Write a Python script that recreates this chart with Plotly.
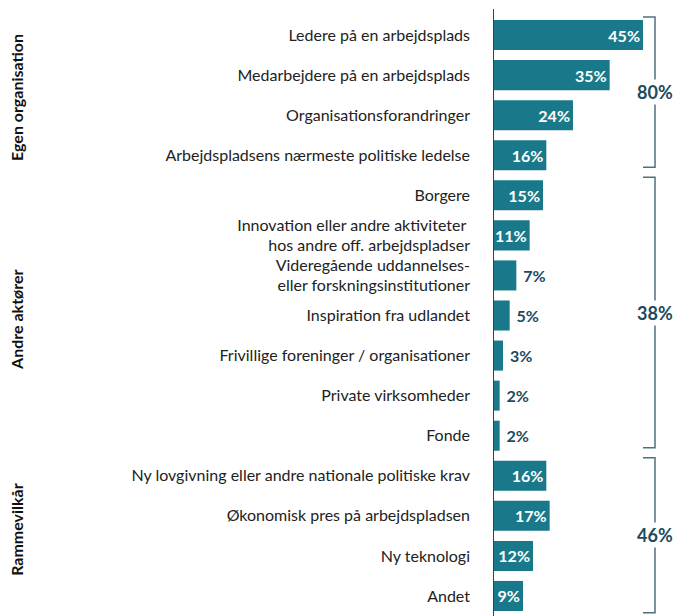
import plotly.graph_objects as go

categories = [
    "Ledere på en arbejdsplads",
    "Medarbejdere på en arbejdsplads",
    "Organisationsforandringer",
    "Arbejdspladsens nærmeste politiske ledelse",
    "Borgere",
    "Innovation eller andre aktiviteter <br>hos andre off. arbejdspladser",
    "Videregående uddannelses-<br>eller forskningsinstitutioner",
    "Inspiration fra udlandet",
    "Frivillige foreninger / organisationer",
    "Private virksomheder",
    "Fonde",
    "Ny lovgivning eller andre nationale politiske krav",
    "Økonomisk pres på arbejdspladsen",
    "Ny teknologi",
    "Andet",
]
values = [45, 35, 24, 16, 15, 11, 7, 5, 3, 2, 2, 16, 17, 12, 9]

group_names = ["Egen organisation", "Andre aktører", "Rammevilkår"]
group_totals = ["80%", "38%", "46%"]
group_start = [0, 4, 11]
group_end = [3, 10, 14]

BAR = "#19798a"
DARK = "#1c4a5e"
BRACKET = "#50707f"

inside = [v >= 9 for v in values]
text_pos = ["inside" if i else "outside" for i in inside]
text_col = ["white" if i else DARK for i in inside]
labels = [f"{v}%" if i else f"&nbsp;{v}%" for v, i in zip(values, inside)]

fig = go.Figure(go.Bar(
    y=categories, x=values, orientation="h",
    marker=dict(color=BAR, line=dict(width=0)),
    width=0.75,
    text=labels,
    textposition=text_pos,
    textangle=0,
    insidetextanchor="end",
    constraintext="none",
    textfont=dict(family="Lato", size=16, color=text_col, weight="bold"),
    cliponaxis=False,
    hoverinfo="skip",
))

W, H = 680, 616
x0px = 493
fig.update_layout(
    width=W, height=H,
    margin=dict(l=0, r=0, t=15, b=0),
    plot_bgcolor="white", paper_bgcolor="white",
    showlegend=False,
    font=dict(family="Lato", size=16, color="#222222"),
    uniformtext=dict(mode=False),
)
fig.update_xaxes(domain=[x0px / W, 1], range=[0, (W - x0px) / 3.333],
                 showgrid=False, zeroline=False, showticklabels=False,
                 showline=False)
fig.update_yaxes(type="category", categoryarray=categories,
                 range=[14.5, -0.5], showgrid=False, zeroline=False,
                 showline=False, ticks="", ticklabelstandoff=22,
                 tickfont=dict(family="Lato", size=16, color="#222222"))

# axis line
fig.add_shape(type="line", xref="x", yref="paper", x0=0, x1=0, y0=0, y1=1.01,
              line=dict(color=DARK, width=2))

# brackets
bx = 655 / W
tx = 643 / W
label_rows = [1.57, 7.11, 12.35]
for name, tot, s, e, lr in zip(group_names, group_totals, group_start, group_end, label_rows):
    y0 = s - 0.45
    y1 = e + 0.3 if e != 14 else e + 0.42
    fig.add_shape(type="path", xref="paper", yref="y",
                  path=f"M {tx} {y0} L {bx} {y0} L {bx} {y1} L {tx} {y1}",
                  line=dict(color=BRACKET, width=1.5))
    mid = (y0 + y1) / 2
    fig.add_annotation(x=bx, y=mid, xref="paper", yref="y", text=tot,
                       showarrow=False, bgcolor="white", xanchor="center",
                       font=dict(family="Lato", size=18, color=DARK, weight="bold"))
    fig.add_annotation(x=17 / W, y=lr, xref="paper", yref="y", text=name,
                       showarrow=False, textangle=-90, xanchor="center",
                       font=dict(family="Lato", size=16, color="#111111", weight="bold"))

fig.write_html("out.html", config={"displayModeBar": False},
               post_script="document.body.style.margin='0';")
